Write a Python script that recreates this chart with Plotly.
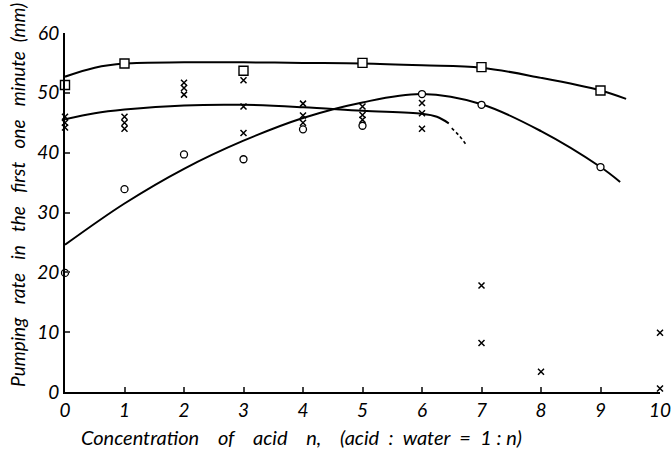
import plotly.graph_objects as go

# ---- measured points ----
sq_x = [0, 1, 3, 5, 7, 9]
sq_y = [51.3, 54.9, 53.7, 55.0, 54.3, 50.4]

circ_x = [0, 1, 2, 3, 4, 5, 6, 7, 9]
circ_y = [19.9, 33.9, 39.7, 38.9, 43.9, 44.5, 49.8, 48.0, 37.6]

cross_x = [0, 0, 0, 1, 1, 1, 2, 2, 2, 3, 3, 3, 4, 4, 4, 5, 5, 5, 6, 6, 6, 7, 7, 8, 10, 10]
cross_y = [46.0, 45.0, 44.2, 46.0, 45.0, 44.0, 51.7, 50.8, 49.7, 52.1, 47.7, 43.3,
           48.2, 46.2, 45.0, 47.7, 46.3, 45.5, 48.3, 46.6, 44.0, 17.8, 8.2, 3.4, 9.9, 0.6]

# ---- hand-drawn fitted curves ----
sqc_x = [0, 0.5, 1, 2, 3, 4, 5, 6, 7, 8, 9, 9.43]
sqc_y = [52.7, 54.2, 54.9, 55.1, 55.1, 55.0, 54.9, 54.6, 54.2, 52.5, 50.4, 49.0]

cc_x = [0, 1, 2, 3, 4, 5, 6, 7, 8, 9, 9.33]
cc_y = [24.6, 31.5, 37.3, 42.0, 45.8, 48.4, 49.8, 48.1, 43.6, 37.6, 35.1]

xc_x = [0, 0.5, 1, 2, 3, 4, 5, 6, 6.25, 6.45]
xc_y = [45.6, 46.6, 47.2, 47.9, 48.0, 47.6, 47.0, 46.5, 46.0, 44.9]

xd_x = [6.5, 6.62, 6.73]
xd_y = [44.1, 42.9, 41.5]

x_ticks = [0, 1, 2, 3, 4, 5, 6, 7, 8, 9, 10]
y_ticks = [0, 10, 20, 30, 40, 50, 60]

FONT = "Lato"
fig = go.Figure()

line = dict(color="black", width=2)
fig.add_trace(go.Scatter(x=sqc_x, y=sqc_y, mode="lines", line=dict(line, shape="spline", smoothing=1.0), cliponaxis=False))
fig.add_trace(go.Scatter(x=cc_x, y=cc_y, mode="lines", line=dict(line, shape="spline", smoothing=1.0), cliponaxis=False))
fig.add_trace(go.Scatter(x=xc_x, y=xc_y, mode="lines", line=dict(line, shape="spline", smoothing=1.0), cliponaxis=False))
fig.add_trace(go.Scatter(x=xd_x, y=xd_y, mode="lines", line=dict(color="black", width=1.6, dash="3px,3px", shape="spline"), cliponaxis=False))

fig.add_trace(go.Scatter(x=sq_x, y=sq_y, mode="markers", cliponaxis=False,
                         marker=dict(symbol="square", size=9, color="white", line=dict(color="black", width=1.4))))
fig.add_trace(go.Scatter(x=circ_x, y=circ_y, mode="markers", cliponaxis=False,
                         marker=dict(symbol="circle", size=7, color="white", line=dict(color="black", width=1.3))))
fig.add_trace(go.Scatter(x=cross_x, y=cross_y, mode="markers", cliponaxis=False,
                         marker=dict(symbol="x-thin", size=6, color="black", line=dict(color="black", width=1.5))))

tickfont = dict(family=FONT, size=19, color="black", style="italic")
fig.update_xaxes(range=[0, 10], tickvals=x_ticks, ticks="inside", ticklen=5, tickwidth=1.5,
                 showline=True, linecolor="black", linewidth=2, showgrid=False, zeroline=False,
                 tickfont=tickfont, ticklabeloverflow="allow", automargin=False)
fig.update_yaxes(range=[0, 60], tickvals=y_ticks, ticks="inside", ticklen=5, tickwidth=1.5,
                 showline=True, linecolor="black", linewidth=2, showgrid=False, zeroline=False,
                 tickfont=tickfont, ticklabeloverflow="allow", automargin=False)

fig.add_annotation(text="Pumping   rate   in   the   first   one   minute  (mm)", xref="paper", yref="paper",
                   x=-0.080, y=0.55, xanchor="center", yanchor="middle", textangle=-90, showarrow=False,
                   font=dict(family=FONT, size=19, color="black", style="italic"))
fig.add_annotation(text="Concentration    of    acid    n,    (acid  :  water  =  1 : n)", xref="paper", yref="paper",
                   x=0.397, y=-0.125, xanchor="center", yanchor="middle", showarrow=False,
                   font=dict(family=FONT, size=20, color="black", style="italic"))

fig.update_layout(width=672, height=454, margin=dict(l=65, r=12, t=33, b=62),
                  paper_bgcolor="white", plot_bgcolor="white", showlegend=False)

fig.write_html("out.html")
